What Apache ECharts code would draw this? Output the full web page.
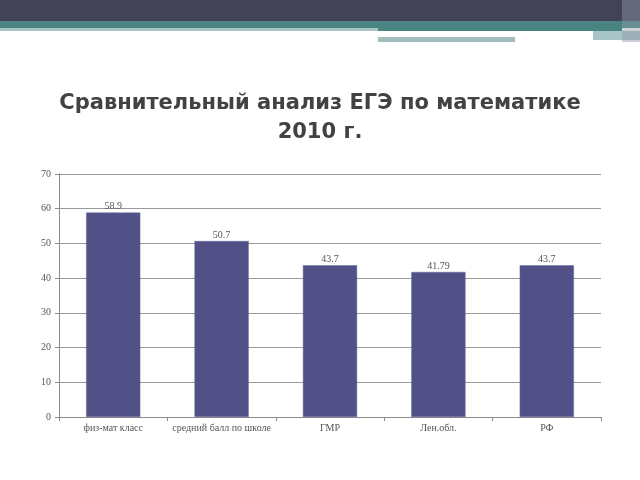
<!DOCTYPE html>
<html><head><meta charset="utf-8">
<script src="https://cdn.jsdelivr.net/npm/echarts@6/dist/echarts.min.js"></script>
<style>html,body{margin:0;padding:0;background:#fff}#c{width:640px;height:480px}</style>
</head><body><div id="c"></div>
<script>
const titleText = 'Сравнительный анализ ЕГЭ по математике\n2010 г.';
const categories = ['физ-мат класс', 'средний балл по школе', 'ГМР', 'Лен.обл.', 'РФ'];
const values = [58.9, 50.7, 43.7, 41.79, 43.7];
const valueLabels = ['58.9', '50.7', '43.7', '41.79', '43.7'];
const yMin = 0, yMax = 70, yStep = 10;

const chart = echarts.init(document.getElementById('c'), null, {renderer: 'canvas'});
const serif = '"Liberation Serif", "DejaVu Serif", serif';
chart.setOption({
  backgroundColor: '#ffffff',
  animation: false,
  graphic: [
    {type: 'rect', shape: {x: 0, y: 0, width: 640, height: 21}, style: {fill: '#434358'}},
    {type: 'rect', shape: {x: 0, y: 21, width: 640, height: 7}, style: {fill: '#4a8481'}},
    {type: 'rect', shape: {x: 378, y: 28, width: 244, height: 3}, style: {fill: '#4a8481'}},
    {type: 'rect', shape: {x: 0, y: 28, width: 378, height: 3}, style: {fill: '#a9c4c4'}},
    {type: 'rect', shape: {x: 378, y: 37, width: 137, height: 5}, style: {fill: '#a3bcbd'}},
    {type: 'rect', shape: {x: 593, y: 31, width: 47, height: 9}, style: {fill: '#a9c4c6'}},
    {type: 'rect', shape: {x: 622, y: 0, width: 18, height: 42}, style: {fill: '#8e9aa6', opacity: 0.45}},
    {type: 'text', left: 'center', top: 89, style: {
      text: titleText, fill: '#424242', textAlign: 'center',
      font: 'bold 21px "DejaVu Sans", sans-serif', lineHeight: 29
    }}
  ],
  grid: {left: 59, right: 39, top: 174, bottom: 63, containLabel: false},
  xAxis: {
    type: 'category', data: categories, boundaryGap: true,
    axisLine: {show: true, lineStyle: {color: '#8a8a8a', width: 1}},
    axisTick: {show: true, alignWithLabel: false, length: 4, lineStyle: {color: '#8a8a8a'}},
    axisLabel: {color: '#555', fontFamily: serif, fontSize: 10, margin: 6, interval: 0}
  },
  yAxis: {
    type: 'value', min: yMin, max: yMax, interval: yStep,
    axisLine: {show: true, lineStyle: {color: '#8a8a8a', width: 1}},
    axisTick: {show: true, length: 4, inside: false, lineStyle: {color: '#8a8a8a'}},
    axisLabel: {color: '#555', fontFamily: serif, fontSize: 10, margin: 8},
    splitLine: {show: true, lineStyle: {color: '#9a9a9a', width: 1}}
  },
  series: [{
    type: 'bar', data: values, barWidth: '50%',
    itemStyle: {color: '#515187', borderColor: '#6b6b9c', borderWidth: 0.5},
    label: {show: true, position: 'top', distance: 1, color: '#555', fontFamily: serif, fontSize: 10,
      formatter: p => valueLabels[p.dataIndex]}
  }]
});
</script></body></html>
